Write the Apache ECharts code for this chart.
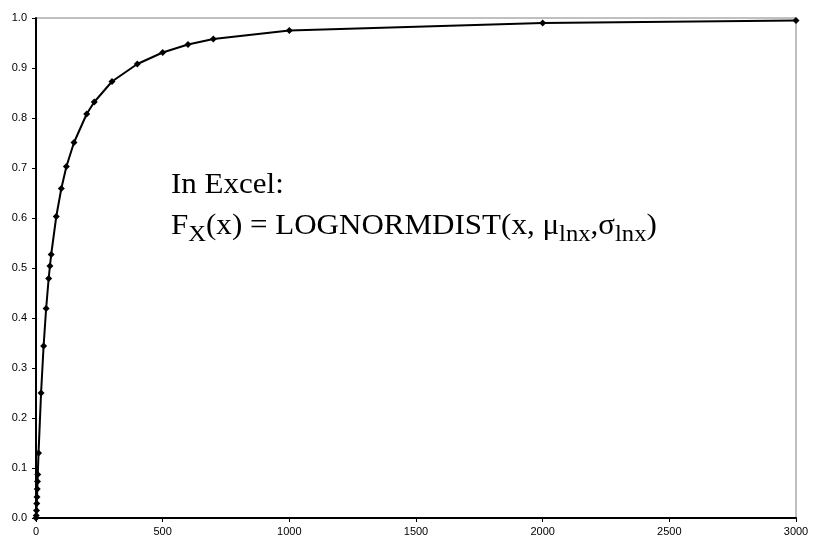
<!DOCTYPE html>
<html>
<head>
<meta charset="utf-8">
<script src="https://cdn.jsdelivr.net/npm/echarts@6/dist/echarts.min.js"></script>
<style>
  html, body { margin: 0; padding: 0; background: #fff; }
  #chart { width: 814px; height: 540px; }
</style>
</head>
<body>
<div id="chart"></div>
<script>
// x values and the CDF
const xVals = [0, 1, 2, 3, 4, 5, 6, 7, 10, 20, 30, 40, 50, 55, 60, 80, 100, 120, 150, 200, 230, 300, 400, 500, 600, 700, 1000, 2000, 3000]
const fVals = [0, 0.005, 0.015, 0.029, 0.042, 0.058, 0.073, 0.087, 0.13, 0.25, 0.344, 0.419, 0.479, 0.504, 0.527, 0.603, 0.659, 0.703, 0.751, 0.808, 0.832, 0.873, 0.908, 0.931, 0.947, 0.958, 0.975, 0.990, 0.995]
const xTicks = [0, 500, 1000, 1500, 2000, 2500, 3000]
const yTicks = [0, 0.1, 0.2, 0.3, 0.4, 0.5, 0.6, 0.7, 0.8, 0.9, 1.0]

const chart = echarts.init(document.getElementById('chart'))

const points = []
for (let i = 0; i < xVals.length; i++) {
  points.push([xVals[i], fVals[i]])
}

const labelFont = {
  color: '#000',
  fontSize: 11,
  fontFamily: '"Liberation Sans", Arial, sans-serif'
}
const serif = '"Liberation Serif", "Times New Roman", serif'

let option = {
  animation: false,
  grid: {
    left: 36,
    right: 18,
    top: 18,
    bottom: 22,
    show: true,
    borderColor: '#808080',
    borderWidth: 1
  },
  xAxis: {
    type: 'value',
    min: xTicks[0],
    max: xTicks[xTicks.length - 1],
    interval: 500,
    splitLine: { show: false },
    axisLine: { show: true, lineStyle: { color: '#000', width: 2 } },
    axisTick: { show: true, length: 4, lineStyle: { color: '#000', width: 1 } },
    axisLabel: Object.assign({ margin: 8, formatter: v => String(v) }, labelFont)
  },
  yAxis: {
    type: 'value',
    min: yTicks[0],
    max: yTicks[yTicks.length - 1],
    interval: 0.1,
    splitLine: { show: false },
    axisLine: { show: true, lineStyle: { color: '#000', width: 2 } },
    axisTick: { show: true, length: 4, lineStyle: { color: '#000', width: 1 } },
    axisLabel: Object.assign({ margin: 9, formatter: v => v.toFixed(1) }, labelFont)
  },
  series: [
    {
      type: 'line',
      data: points,
      clip: false,
      symbol: 'diamond',
      symbolSize: 7,
      itemStyle: { color: '#000' },
      lineStyle: { color: '#000', width: 2 }
    }
  ],
  graphic: [
    {
      type: 'text',
      x: 171,
      y: 171,
      scaleX: 1.07,
      style: {
        text: 'In Excel:',
        fontSize: 29,
        fontFamily: serif,
        fill: '#000'
      }
    },
    {
      type: 'text',
      x: 171,
      y: 206,
      scaleX: 1.07,
      style: {
        text: 'F{sub|X}(x) = LOGNORMDIST(x, μ{sub|lnx},σ{sub|lnx})',
        fontSize: 29,
        fontFamily: serif,
        fill: '#000',
        lineHeight: 40,
        rich: {
          sub: {
            fontSize: 23,
            fontFamily: serif,
            fill: '#000',
            lineHeight: 21,
            verticalAlign: 'bottom'
          }
        }
      }
    }
  ]
}
chart.setOption(option)
</script>
</body>
</html>
